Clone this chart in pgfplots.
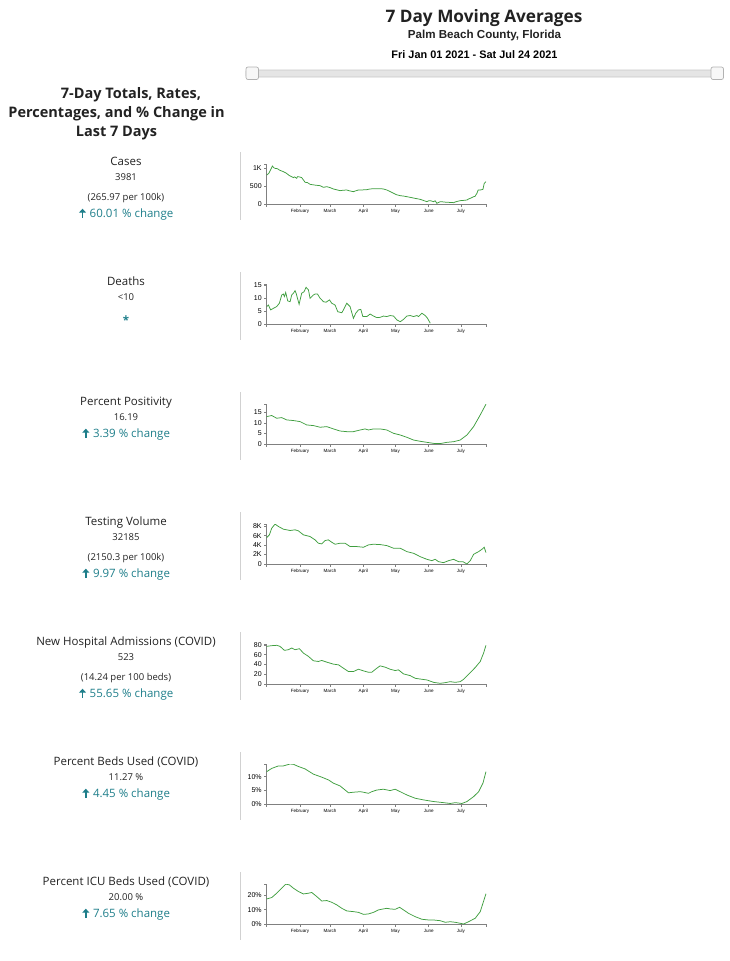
\documentclass[border=0pt]{standalone}
\usepackage{pgfplots}
\pgfplotsset{compat=1.18}
\usetikzlibrary{arrows.meta}
\usepackage{fontspec}
\setmainfont{Open Sans}
\newfontfamily\arialfont{Liberation Sans}
\definecolor{linegreen}{HTML}{3F9E3F}
\definecolor{tealtxt}{HTML}{1E7E8A}
\definecolor{axgray}{HTML}{808080}
\definecolor{txt}{HTML}{222222}
\pgfplotsset{
  panel/.style={
    scale only axis, width=220pt, height=40pt,
    anchor=south west,
    xmin=0, xmax=205, ymin=0, enlargelimits=false,
    axis x line=bottom, axis y line=left,
    axis line style={-, draw=axgray, line width=0.7pt},
    tick align=outside, major tick length=2.5pt,
    tick style={draw=axgray, line width=0.6pt},
    /pgf/number format/assume math mode=true,
    xtick={31,59,90,120,151,181},
    xticklabels={February,March,April,May,June,July},
    x tick label style={font=\arialfont\fontsize{4.6}{5}\selectfont, text=black, yshift=1pt},
    y tick label style={font=\arialfont\fontsize{7}{8}\selectfont, text=black, xshift=1pt},
    extra x ticks={0,205}, extra x tick labels={},
    every axis plot post/.append style={color=linegreen, line width=0.75pt, mark=none},
  }
}
\newcommand{\ptitle}[2]{\node[anchor=base, font=\fontsize{11.5}{13}\selectfont, text=txt] at (126pt,-#1pt) {#2};}
\newcommand{\pval}[2]{\node[anchor=base, font=\fontsize{9.5}{11}\selectfont, text=txt] at (126pt,-#1pt) {#2};}
\newcommand{\pchg}[2]{\node[anchor=base, inner sep=0pt, font=\fontsize{11.5}{13}\selectfont, text=tealtxt] (chg) at (126pt,-#1pt) {\hspace{11pt}#2};
  \draw[tealtxt, line width=1.5pt, -{Triangle[length=4pt,width=7pt]}] ([xshift=4pt]chg.base west) -- ++(0,8.8pt);}
\newcommand{\sepline}[1]{\draw[color=black!18, line width=0.8pt] (240pt,-#1pt) -- ++(0,-68pt);}
\begin{document}
\begin{tikzpicture}[x=1pt,y=1pt]
\path[use as bounding box] (0,0) rectangle (729,-961);
% header
\node[font=\fontsize{17.2}{20}\selectfont\bfseries, text=txt] at (484,-18.3) {7 Day Moving Averages};
\node[font=\arialfont\bfseries\fontsize{11.6}{13}\selectfont, text=txt] at (484.5,-35.7) {Palm Beach County, Florida};
\node[font=\arialfont\bfseries\fontsize{10.9}{12}\selectfont, text=black] at (474.5,-54.3) {Fri Jan 01 2021 - Sat Jul 24 2021};
% slider
\draw[fill=black!10, draw=black!22, line width=0.7pt, rounded corners=1pt] (246,-70) rectangle (722,-77);
\draw[fill=black!3, draw=black!30, line width=0.7pt, rounded corners=2pt] (246,-67) rectangle (258.5,-79.5);
\draw[fill=black!3, draw=black!30, line width=0.7pt, rounded corners=2pt] (711,-67) rectangle (723.5,-79.5);
% left heading
\node[font=\fontsize{14.5}{17}\selectfont\bfseries, text=txt] at (131,-95) {7-Day Totals, Rates,};
\node[font=\fontsize{14.5}{17}\selectfont\bfseries, text=txt] at (116.5,-113.3) {Percentages, and \% Change in};
\node[font=\fontsize{14.5}{17}\selectfont\bfseries, text=txt] at (116.5,-132.7) {Last 7 Days};
% left texts
\ptitle{165}{Cases}\pval{180.3}{3981}\pval{200.3}{(265.97 per 100k)}\pchg{217.5}{60.01 \% change}
\ptitle{285}{Deaths}\pval{300.3}{<10}
\node[anchor=base, font=\fontsize{11.5}{13}\selectfont\bfseries, text=tealtxt] at (126,-324.5) {*};
\ptitle{405}{Percent Positivity}\pval{420.3}{16.19}\pchg{437.5}{3.39 \% change}
\ptitle{525}{Testing Volume}\pval{540.3}{32185}\pval{560.3}{(2150.3 per 100k)}\pchg{577.5}{9.97 \% change}
\ptitle{645}{New Hospital Admissions (COVID)}\pval{660.3}{523}\pval{680.3}{(14.24 per 100 beds)}\pchg{697.5}{55.65 \% change}
\ptitle{765}{Percent Beds Used (COVID)}\pval{780.3}{11.27 \%}\pchg{797.5}{4.45 \% change}
\ptitle{885}{Percent ICU Beds Used (COVID)}\pval{900.3}{20.00 \%}\pchg{917.5}{7.65 \% change}
\sepline{152}\sepline{272}\sepline{392}\sepline{512}\sepline{632}\sepline{752}\sepline{872}
% Cases
\begin{axis}[panel, at={(266.7pt,-204pt)}, ymax=1122, ytick={0,500,1000}, yticklabels={0,500,1K}, extra y ticks={1122}, extra y tick labels={}]
\addplot coordinates {(0,813)(2,860)(3.5,950)(5.3,1066)(6.5,1020)(7.8,1000)(10,990)(12,950)(15.5,907)(18,870)(21,800)(24.9,740)(26,760)(28,720)(28.6,767)(30.5,760)(32.6,740)(35.8,608)(38,600)(40.4,552)(45,530)(49.8,514)(52.9,468)(56,486)(59,460)(62.2,421)(65,400)(68.4,374)(71,385)(74.6,393)(77,370)(80.8,346)(83,370)(85.5,393)(89,395)(93.3,402)(96,420)(99.5,430)(103,425)(106,430)(108.8,421)(111.9,393)(115,350)(118.2,300)(121,260)(124.4,234)(128,220)(133.7,187)(138,160)(143,131)(146,100)(149.3,65)(151,90)(152.4,94)(154,80)(155.5,65)(157,90)(158.6,19)(160,40)(161.7,65)(164,60)(167.9,47)(171,45)(174.1,37)(176,60)(180.3,94)(183,100)(186.6,112)(188,140)(189.7,159)(192.8,206)(194,210)(195.9,300)(197,390)(199,393)(201.5,411)(202.7,580)(204.3,626)};
\end{axis}
% Deaths
\begin{axis}[panel, at={(266.7pt,-324pt)}, ymax=15.6, ytick={0,5,10,15}, extra y ticks={15.6}, extra y tick labels={}]
\addplot coordinates {(0,6.8)(1.6,7.4)(3.7,5.5)(6.2,6.1)(9.3,6.8)(11.8,8.1)(14,11.3)(15.5,11.7)(16.5,10.7)(17.7,12.3)(19.6,9.0)(21.8,8.7)(23.3,11.3)(24.9,12)(26.4,13)(27.4,12)(30.2,7.7)(32.6,12)(34.8,12.6)(36.7,14.3)(38.9,13.3)(40.4,10)(43.5,11.3)(45.1,11.7)(47.3,11.7)(49.8,10)(52.9,8.7)(55.3,8.5)(58.5,9.4)(60.6,8.1)(63.7,7.4)(66.2,4.8)(70,4.4)(71.5,5.5)(74.6,8.1)(77.7,6.8)(80.8,2.2)(83,4.2)(85.5,5.5)(87.7,5.7)(89.6,2.9)(93.3,2.9)(96.4,3.9)(99.5,3.1)(102.6,2.5)(105.7,2.6)(108.8,3.1)(111.9,2.9)(115,3.3)(118.2,3.1)(121.3,1.6)(124.4,0.9)(127.5,1.8)(130.6,3.1)(133.7,3.3)(136.8,2.9)(139.9,3.3)(141.5,2.9)(144.6,4.2)(147.7,3.3)(149.9,2.2)(152.4,0.3)};
\end{axis}
% Percent positivity
\begin{axis}[panel, at={(266.7pt,-444pt)}, ymax=19.1, ytick={0,5,10,15}, extra y ticks={19.1}, extra y tick labels={}]
\addplot coordinates {(0,13.1)(4.7,13.6)(9.3,12.3)(14,12.6)(18.7,11.5)(24.9,11.2)(31.1,10.7)(37.3,9.1)(43.5,8.8)(49.8,8.0)(56,8.3)(62.2,7.2)(68.4,6.2)(74.6,5.9)(80.8,5.9)(87.1,6.7)(91.7,7.2)(94.8,6.7)(99.5,7.2)(105.7,7.2)(111.9,6.7)(118.2,5.1)(124.4,4.3)(130.6,3.2)(136.8,1.9)(143,1.3)(149.3,0.8)(155.5,0.3)(161.7,0.2)(167.9,0.8)(174.1,1.1)(180.3,1.9)(186.6,4.3)(192.8,8.3)(199,13.9)(204.3,19.0)};
\end{axis}
% Testing volume
\begin{axis}[panel, at={(266.7pt,-564pt)}, ymax=8450, ytick={0,2000,4000,6000,8000}, yticklabels={0,2K,4K,6K,8K}, extra y ticks={8450}, extra y tick labels={}]
\addplot coordinates {(0,5593)(2.5,6160)(4.7,7576)(7.8,8425)(10.9,7930)(15.5,7363)(21.8,7080)(26.4,7222)(29.5,7009)(34.2,6160)(40.4,5806)(45.1,5098)(48.2,4390)(51.3,4248)(54.4,4956)(57.5,5098)(60.6,4602)(63.7,4177)(68.4,4390)(73.1,4390)(77.7,3682)(84,3682)(90.2,3540)(94.8,4036)(99.5,4177)(105.7,4106)(111.9,3894)(118.2,3328)(124.4,3328)(130.6,2620)(136.8,2266)(143,1558)(149.3,991)(153.9,708)(157,991)(160.1,496)(164.8,283)(169.5,708)(174.1,991)(178.8,496)(182.8,496)(186.6,0)(189.7,708)(192.8,2053)(197.5,2620)(200.6,3115)(202.7,3540)(204.3,2407)};
\end{axis}
% Hospital admissions
\begin{axis}[panel, at={(266.7pt,-684pt)}, ymax=82, ytick={0,20,40,60,80}, extra y ticks={82}, extra y tick labels={}]
\addplot coordinates {(0,77.2)(4.7,78.6)(9.3,79.3)(12.4,77.2)(16.5,69)(20.2,70.3)(23.3,73.8)(26.4,70.3)(30.5,72.4)(34.2,63.4)(38.9,56.6)(43.5,47.6)(48.2,46.2)(51.3,48.3)(56,44.8)(62.2,40.7)(66.9,39.3)(71.5,32.4)(76.2,25.5)(80.8,25.5)(85.5,30.3)(90.2,26.9)(94.8,24.1)(97.9,24.1)(102.6,32.4)(105.7,37.2)(110.4,34.5)(115,30.3)(119.7,27.6)(122.8,29)(127.5,20.7)(133.7,17.2)(138.4,11.7)(144.6,9.7)(149.3,8.3)(155.5,3.4)(161.7,1.4)(166.4,2.8)(171,4.8)(175.7,3.4)(180.3,4.8)(183.5,9.7)(189.7,23.4)(194.3,33.8)(199,46.2)(202.1,63.4)(204.3,79.3)};
\end{axis}
% Beds used
\begin{axis}[panel, at={(266.7pt,-804pt)}, ymax=14.6, ytick={0,5,10}, yticklabels={0\%,5\%,10\%}, extra y ticks={14.6}, extra y tick labels={}]
\addplot coordinates {(0,11.8)(4.7,13.0)(10.9,13.9)(15.5,13.9)(21.8,14.6)(24.9,14.5)(29.5,13.7)(35.8,12.8)(43.5,10.9)(51.3,9.8)(57.5,8.8)(62.2,7.6)(68.4,6.6)(76.2,4.1)(80.8,4.3)(87.1,4.5)(90.2,4.3)(94.8,3.9)(97.9,4.5)(102.6,5.1)(108.8,5.4)(115,4.9)(119.7,5.4)(124.4,4.5)(130.6,3.3)(138.4,2.1)(146.1,1.5)(155.5,0.9)(164.8,0.5)(171,0.2)(175.7,0.5)(181.9,0.2)(186.6,0.9)(192.8,2.7)(197.5,4.5)(201.5,7.6)(204.3,11.8)};
\end{axis}
% ICU beds used
\begin{axis}[panel, at={(266.7pt,-924pt)}, ymax=27.8, ytick={0,10,20}, yticklabels={0\%,10\%,20\%}, extra y ticks={27.8}, extra y tick labels={}]
\addplot coordinates {(0,17.4)(4.7,18.4)(9.3,21.4)(14,24.9)(17.7,27.7)(21.1,27.2)(24.9,24.9)(29.5,22.6)(34.2,20.9)(38.9,21.4)(42,21.9)(46.6,19.1)(51.3,16)(56,16.3)(60.6,15.1)(65.3,13.3)(70,10.9)(74.6,9.1)(80.8,8.6)(85.5,8.1)(90.2,6.7)(94.8,7.0)(99.5,8.1)(104.2,9.8)(108.8,10.5)(111.9,10.9)(115,10.5)(119.7,10.2)(123.8,11.6)(127.5,9.8)(132.2,7.4)(138.4,5.1)(144.6,3.3)(150.8,2.8)(155.5,2.8)(161.7,2.3)(166.4,1.2)(171,1.6)(175.7,1.2)(180.3,0.5)(183.5,0)(188.1,1.6)(194.3,4.0)(199,8.6)(204.3,21)};
\end{axis}
\end{tikzpicture}
\end{document}
